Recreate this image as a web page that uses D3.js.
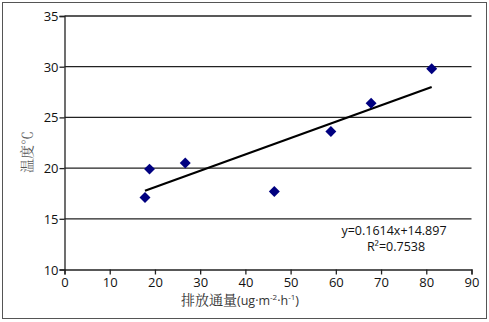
<!DOCTYPE html>
<html><head><meta charset="utf-8">
<script src="https://cdn.jsdelivr.net/npm/d3@7"></script>
<style>body{margin:0;background:#fff}svg{display:block}</style>
</head><body>
<svg id="c" width="489" height="322"></svg>
<script>
const xValues = [17.8, 18.8, 26.7, 46.4, 58.9, 67.8, 81.2];
const yValues = [17.1, 19.9, 20.5, 17.7, 23.6, 26.4, 29.8];
const xTicks = [0,10,20,30,40,50,60,70,80,90];
const yTicks = [10,15,20,25,30,35];
const slope = 0.1614, intercept = 14.897;
const eqLabel = "y=0.1614x+14.897";
const r2Label = "R²=0.7538";
const xTitle = "排放通量";
const yTitle = "温度℃";

const svg = d3.select("#c");
svg.append("rect").attr("x",2.5).attr("y",2.5).attr("width",484).attr("height",316)
  .attr("fill","#fff").attr("stroke","#555").attr("stroke-width",1);

const x = d3.scaleLinear().domain([0,90]).range([64.5,471.5]);
const y = d3.scaleLinear().domain([10,35]).range([269.5,16]);
const font = "'Open Sans', 'Liberation Sans', sans-serif";

// gridlines
svg.append("g").selectAll("line").data(yTicks.filter(d=>d>10)).join("line")
  .attr("x1",x(0)).attr("x2",x(90)).attr("y1",d=>y(d)).attr("y2",d=>y(d))
  .attr("stroke","#222").attr("stroke-width",1.3);

const xa = svg.append("g").attr("transform",`translate(0,${y(10)})`)
  .call(d3.axisBottom(x).tickValues(xTicks).tickSize(5).tickPadding(3));
const ya = svg.append("g").attr("transform",`translate(${x(0)},0)`)
  .call(d3.axisLeft(y).tickValues(yTicks).tickSize(5).tickPadding(1));
[xa,ya].forEach(a=>{
  a.select(".domain").attr("stroke","#222").attr("stroke-width",1.3);
  a.selectAll(".tick line").attr("stroke","#222").attr("stroke-width",1.3);
  a.selectAll("text").attr("font-family",font).attr("font-size",13).attr("fill","#111");
});
ya.selectAll(".tick text").attr("dy","0.35em");

// trend line
const x0 = d3.min(xValues), x1 = d3.max(xValues);
svg.append("line").attr("x1",x(x0)).attr("y1",y(slope*x0+intercept))
  .attr("x2",x(x1)).attr("y2",y(slope*x1+intercept))
  .attr("stroke","#000").attr("stroke-width",2.2);

// markers
svg.append("g").selectAll("path").data(xValues.map((v,i)=>[v,yValues[i]])).join("path")
  .attr("d",d3.symbol().type(d3.symbolSquare).size(60))
  .attr("transform",d=>`translate(${x(d[0])},${y(d[1])}) rotate(45)`)
  .attr("fill","#000080");

// equation
svg.append("text").attr("x",394).attr("y",235).attr("text-anchor","middle")
  .attr("font-family",font).attr("font-size",12.5).attr("fill","#111").text(eqLabel);
svg.append("text").attr("x",396).attr("y",251).attr("text-anchor","middle")
  .attr("font-family",font).attr("font-size",12.5).attr("fill","#111").text(r2Label);

// axis titles
const xt = svg.append("text").attr("x",240).attr("y",305).attr("text-anchor","middle")
  .attr("fill","#333").attr("font-size",12.5);
xt.append("tspan").attr("font-family","'Noto Serif CJK SC','Noto Sans CJK SC',serif").attr("font-size",14).text(xTitle);
xt.append("tspan").attr("font-family",font).text("(ug·m");
xt.append("tspan").attr("font-family",font).attr("dy",-5).attr("font-size",8).text("-2");
xt.append("tspan").attr("font-family",font).attr("dy",5).text("·h");
xt.append("tspan").attr("font-family",font).attr("dy",-5).attr("font-size",8).text("-1");
xt.append("tspan").attr("font-family",font).attr("dy",5).text(")");

svg.append("text").attr("transform","translate(32,152) rotate(-90)").attr("text-anchor","middle")
  .attr("font-family","'Noto Serif CJK SC','Noto Sans CJK SC',serif").attr("font-size",14)
  .attr("fill","#555").text(yTitle);
</script>
</body></html>
